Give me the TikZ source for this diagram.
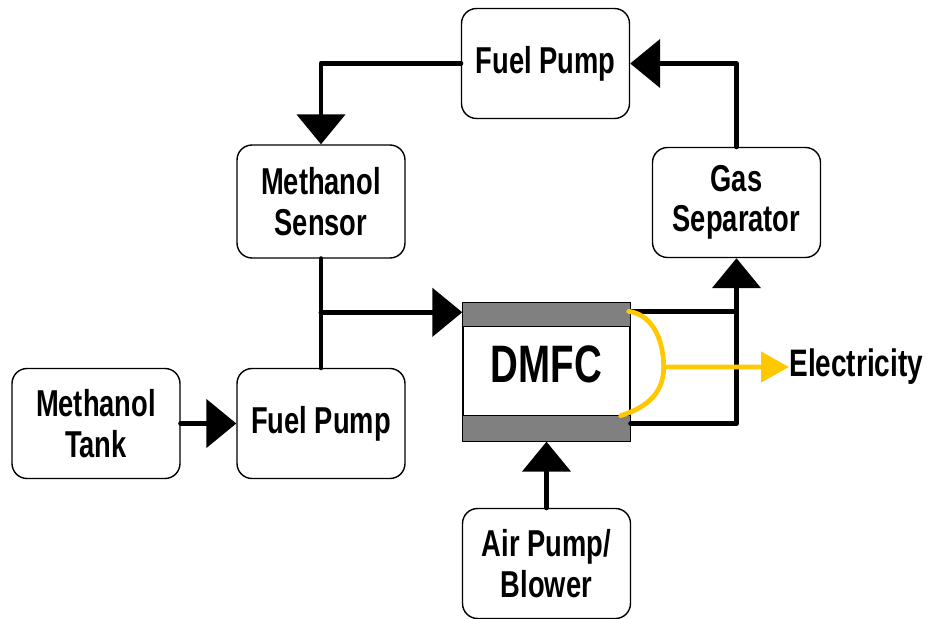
\documentclass[tikz,border=0pt]{standalone}
\usepackage{fontspec}
\newfontfamily\diafont[FakeStretch=0.73]{Liberation Sans}
\usetikzlibrary{arrows.meta,calc,positioning}
\definecolor{ink}{HTML}{000000}
\definecolor{band}{HTML}{808080}
\definecolor{power}{HTML}{FFC800}
\tikzset{
  blk/.style={draw=ink,line width=0.8pt,rounded corners=0.3cm,minimum width=3.36cm,minimum height=2.2cm,
    align=center,inner sep=0pt,font=\diafont\bfseries\fontsize{21.3}{23}\selectfont},
  cell/.style={draw=ink,line width=0.8pt,minimum width=3.34cm,minimum height=2.76cm,inner sep=0pt},
  celltxt/.style={inner sep=0pt,font=\diafont\bfseries\fontsize{30}{32}\selectfont},
  pipe/.style={ink,line width=2.8pt,line cap=round,line join=round},
  flow/.style={pipe,-{Triangle[length=0.6cm,width=0.96cm]}},
  elec/.style={power,line width=2.7pt,line cap=round},
  eflow/.style={elec,-{Triangle[length=0.56cm,width=0.6cm]}},
  lbl/.style={inner sep=0pt,font=\diafont\bfseries\fontsize{21.8}{24}\selectfont},
}
\begin{document}
\begin{tikzpicture}[x=0.02cm,y=-0.02cm]
  \useasboundingbox (0,0) rectangle (927,619);
  \node[blk] (pumpA) at (545.5,63.5) {Fuel Pump};
  \node[blk,minimum height=2.26cm] (sensor) at (321,201.5) {Methanol\\Sensor};
  \node[blk] (sep) at (736.5,202.5) {Gas\\Separator};
  \node[blk] (tank) at (96,423.5) {Methanol\\Tank};
  \node[blk] (pumpB) at (321,423.5) {Fuel Pump};
  \node[blk] (air) at (546.5,563.5) {Air Pump/\\Blower};
  \node[cell] (dmfc) at (546.5,372) {};
  \fill[band,draw=ink,line width=0.8pt] (dmfc.north west) rectangle ([yshift=-0.48cm]dmfc.north east);
  \fill[band,draw=ink,line width=0.8pt] (dmfc.south west) rectangle ([yshift=0.52cm]dmfc.south east);
  \node[celltxt] (dmfcTxt) at ([yshift=0.16cm]dmfc.center) {DMFC};
  \node[lbl,anchor=west] (power) at (789,367) {Electricity};
  \coordinate (inA) at ([yshift=-0.2cm]dmfc.north west);
  \coordinate (outA) at ([yshift=-0.18cm]dmfc.north east);
  \coordinate (outB) at ([yshift=0.36cm]dmfc.south east);
  \coordinate (eA) at ([xshift=-0.04cm]outA);
  \coordinate (eB) at ([xshift=-0.2cm,yshift=0.52cm]dmfc.south east);
  \coordinate (bulge) at ([xshift=0.66cm,yshift=0.1cm]dmfc.east);
  \draw[flow] (pumpA.west) -| (sensor.north);
  \draw[flow] (sep.north) |- (pumpA.east);
  \draw[pipe] (sensor.south) -- (pumpB.north);
  \draw[flow] (sensor.south |- inA) -- (inA);
  \draw[flow] (tank.east) -- (pumpB.west);
  \draw[flow] (air.north) -- (dmfc.south);
  \draw[pipe] (outA) -- (outA -| sep.south);
  \draw[flow] (outB) -| (sep.south);
  \draw[elec] (eA) .. controls ($(eA)+(27,4)$) and ($(bulge)+(0,-22)$) .. (bulge)
    .. controls ($(bulge)+(0,25)$) and ($(eB)+(28,-9)$) .. (eB);
  \draw[eflow] (bulge) -- (power.west);
\end{tikzpicture}
\end{document}
